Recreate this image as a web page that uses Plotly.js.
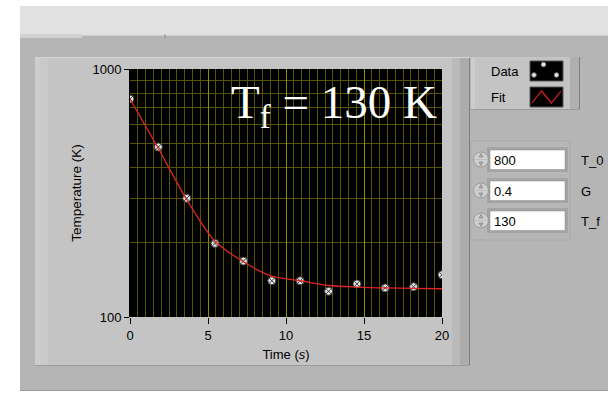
<!DOCTYPE html>
<html>
<head>
<meta charset="utf-8">
<script src="https://cdn.plot.ly/plotly-3.0.1.min.js"></script>
<style>
html,body{margin:0;padding:0;background:#fff;}
#chart{width:608px;height:393px;}
</style>
</head>
<body>
<div id="chart"></div>
<script>
// ---- data ----
const timeS = [0, 1.82, 3.64, 5.45, 7.27, 9.09, 10.91, 12.73, 14.55, 16.36, 18.18, 20];
const dataK = [757, 485, 301, 198, 168, 140, 140, 127, 136, 131, 132.5, 148];
const fitK  = [757, 478, 297, 202, 167, 146, 140, 134, 132, 131, 130.5, 130];
const xTickVals = [0, 5, 10, 15, 20];
const yTickVals = [100, 1000];
const yTickText = ['100', '1000'];
const yMinorVals = [200, 300, 400, 500, 600, 700, 800, 900];
const legendNames = ['Data', 'Fit'];
const ctrlValues = ['800', '0.4', '130'];
const ctrlLabels = ['T_0', 'G', 'T_f'];
const bigLabel = 'T<sub>f</sub> = 130 K';

// ---- pixel helpers (plot area: x 130..442, y 69..317) ----
const PL = 130, PR = 442, PT = 69, PB = 317;
const fx = x => (x - PL) / (PR - PL);
const fy = y => (PB - y) / (PB - PT);
function rect(x0, y0, x1, y1, fill, line, lw) {
  return {type: 'rect', xref: 'paper', yref: 'paper', layer: 'below',
    x0: fx(x0), x1: fx(x1), y0: fy(y1), y1: fy(y0),
    fillcolor: fill, line: {color: line || fill, width: lw === undefined ? 0 : lw}};
}
function lineS(x0, y0, x1, y1, color, w) {
  return {type: 'line', xref: 'paper', yref: 'paper', layer: 'below',
    x0: fx(x0), x1: fx(x1), y0: fy(y0), y1: fy(y1), line: {color: color, width: w || 1}};
}
function pathS(pts, color, w, fill, layer) {
  const d = pts.map((p, i) => (i ? 'L' : 'M') + fx(p[0]).toFixed(5) + ',' + fy(p[1]).toFixed(5)).join(' ') + (fill ? ' Z' : '');
  return {type: 'path', xref: 'paper', yref: 'paper', layer: layer || 'above', path: d,
    fillcolor: fill || 'rgba(0,0,0,0)', line: {color: color, width: w}};
}
function circ(cx, cy, r, fill, line, layer) {
  return {type: 'circle', xref: 'paper', yref: 'paper', layer: layer || 'above',
    x0: fx(cx - r), x1: fx(cx + r), y0: fy(cy + r), y1: fy(cy - r),
    fillcolor: fill, line: {color: line, width: 1}};
}

const shapes = [
  rect(20, 6, 608, 35, '#e1e1e1'),
  rect(20, 35, 608, 391, '#b5b5b5'),
  lineS(20, 35.5, 608, 35.5, '#cdcdcd', 1),
  rect(20, 34, 82, 38, '#d2d2d2'),
  lineS(165, 34, 165, 38, '#8c8c8c', 1),
  lineS(20, 390.5, 608, 390.5, '#9a9a9a', 1),
  // chart frame
  rect(35, 57, 470, 366, '#c4c4c4'),
  rect(35, 57, 40, 366, '#cdcdcd'),
  rect(40, 57, 48, 366, '#c9c9c9'),
  rect(452, 57, 460, 366, '#bababa'),
  rect(460, 57, 470, 366, '#acacac'),
  lineS(469.5, 57, 469.5, 366, '#7e7e7e', 1),
  lineS(35, 57.5, 470, 57.5, '#d6d6d6', 1),
  lineS(35, 365.5, 470, 365.5, '#9c9c9c', 1),
  // plot area background
  rect(129, 69, 442, 317, '#000000'),
  // legend box
  rect(471, 57, 580, 110, '#c4c4c4'),
  rect(471, 57, 475, 110, '#cdcdcd'),
  rect(570, 57, 580, 110, '#b0b0b0'),
  lineS(579.5, 57, 579.5, 110, '#808080', 1),
  lineS(471, 109.5, 580, 109.5, '#9c9c9c', 1),
  rect(530, 61, 563, 81, '#000000', '#555555', 1),
  rect(530, 87, 563, 107, '#000000', '#555555', 1),
  // controls group
  rect(471, 141, 570, 240, '#b7b7b7', '#a9a9a9', 1),
];
// legend samples
shapes.push(pathS([[532, 103], [541.5, 91], [551.5, 103], [561, 91]], '#e02020', 1.2));
shapes.push(circ(543.5, 64.5, 2.3, '#e8e8e8', '#777'));
shapes.push(circ(534, 75, 2.3, '#e8e8e8', '#777'));
shapes.push(circ(556.5, 75, 2.3, '#e8e8e8', '#777'));

// numeric controls
const rowTops = [150, 181, 211];
const annotations = [];
rowTops.forEach((t, i) => {
  shapes.push(rect(487, t - 3, 568, t + 22, '#a4a4a4'));
  shapes.push(rect(490, t, 565, t + 19.5, '#ffffff', '#8a8a8a', 0.5));
  shapes.push(circ(481, t + 9.5, 7.5, '#cfcfcf', '#9a9a9a', 'below'));
  shapes.push(pathS([[479, t + 7], [481, t + 3.5], [483, t + 7]], '#8a8a8a', 0.8, '#b0b0b0'));
  shapes.push(pathS([[479, t + 12], [481, t + 15.5], [483, t + 12]], '#8a8a8a', 0.8, '#b0b0b0'));
  shapes.push(lineS(474, t + 9.5, 488, t + 9.5, '#b0b0b0', 0.6));
  annotations.push({xref: 'paper', yref: 'paper', x: fx(492), y: fy(t + 10), xanchor: 'left', yanchor: 'middle',
    text: ctrlValues[i], showarrow: false, font: {family: 'Liberation Sans, Arial, sans-serif', size: 13, color: '#000'}});
  annotations.push({xref: 'paper', yref: 'paper', x: fx(579), y: fy(t + 10), xanchor: 'left', yanchor: 'middle',
    text: ctrlLabels[i], showarrow: false, font: {family: 'Liberation Sans, Arial, sans-serif', size: 13, color: '#000'}});
});
// legend labels
[[71, legendNames[0]], [97, legendNames[1]]].forEach(r => {
  annotations.push({xref: 'paper', yref: 'paper', x: fx(489), y: fy(r[0]), xanchor: 'left', yanchor: 'middle',
    text: r[1], showarrow: false, font: {family: 'Liberation Sans, Arial, sans-serif', size: 13, color: '#000'}});
});
// big label
annotations.push({xref: 'paper', yref: 'paper', x: fx(334), y: fy(105), xanchor: 'center', yanchor: 'middle',
  text: bigLabel, showarrow: false, font: {family: 'Liberation Serif, Times New Roman, serif', size: 47, color: '#ffffff'}});

const traces = [
  {x: timeS, y: dataK, name: legendNames[0], type: 'scatter', mode: 'markers',
    marker: {symbol: 'circle-x', size: 8, color: '#e6e6e6', line: {color: '#3a3a3a', width: 1}}},
  {x: timeS, y: fitK, name: legendNames[1], type: 'scatter', mode: 'lines',
    line: {color: '#e02424', width: 1.3, shape: 'spline', smoothing: 0.8}}
];

const tickFont = {family: 'Liberation Sans, Arial, sans-serif', size: 13, color: '#000'};
const layout = {
  width: 608, height: 393,
  margin: {l: PL, r: 608 - PR, t: PT, b: 393 - PB, pad: 0},
  paper_bgcolor: '#ffffff',
  plot_bgcolor: '#000000',
  showlegend: false,
  hovermode: false,
  xaxis: {
    range: [0, 20], tickmode: 'array', tickvals: xTickVals,
    ticks: 'outside', ticklen: 6, tickcolor: '#000', tickwidth: 1,
    showgrid: true, gridcolor: '#8c8c00', gridwidth: 1,
    minor: {dtick: 0.5, tick0: 0, showgrid: true, gridcolor: '#555500', gridwidth: 1, ticks: ''},
    zeroline: false, showline: false, tickfont: tickFont,
    title: {text: 'Time (<i>s</i>)', font: {family: 'Liberation Sans, Arial, sans-serif', size: 13, color: '#000'}, standoff: 8},
    automargin: false
  },
  yaxis: {
    type: 'log', range: [2, 3], tickmode: 'array', tickvals: yTickVals, ticktext: yTickText,
    ticks: 'outside', ticklen: 5, tickcolor: '#000', tickwidth: 1,
    showgrid: true, gridcolor: '#8c8c00', gridwidth: 1,
    minor: {tickmode: 'array', tickvals: yMinorVals, showgrid: true, gridcolor: '#555500', gridwidth: 1, ticks: ''},
    zeroline: false, showline: false, tickfont: tickFont,
    title: {text: 'Temperature (K)', font: {family: 'Liberation Sans, Arial, sans-serif', size: 13.5, color: '#000'}, standoff: 7},
    automargin: false
  },
  shapes: shapes,
  annotations: annotations
};

Plotly.newPlot('chart', traces, layout, {displayModeBar: false, staticPlot: true});
</script>
</body>
</html>
